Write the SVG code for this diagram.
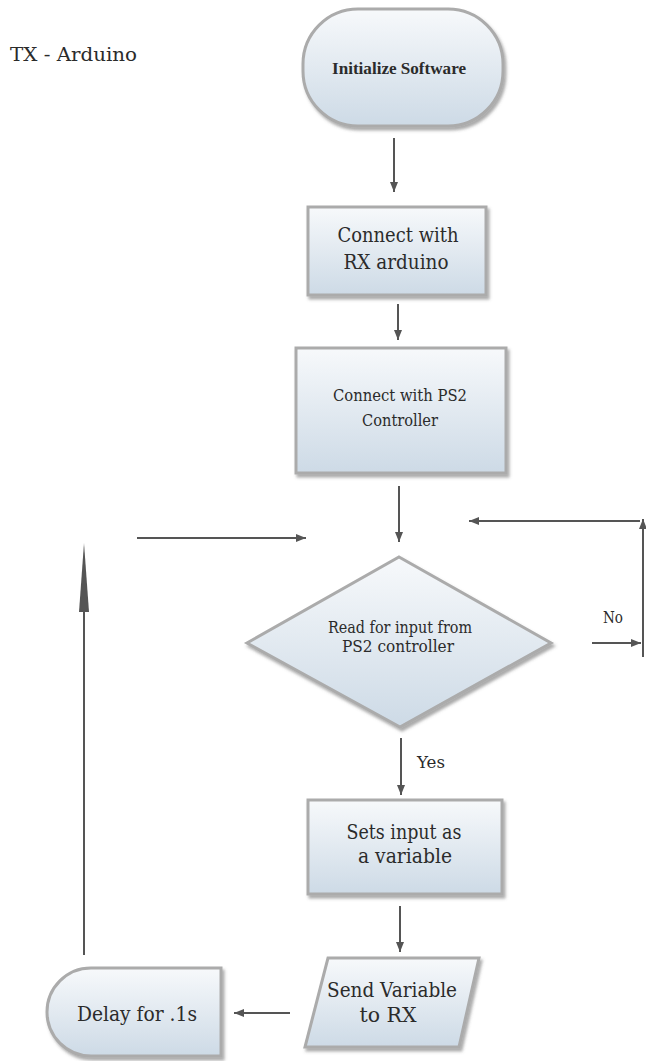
<svg xmlns="http://www.w3.org/2000/svg" width="646" height="1061" viewBox="0 0 646 1061">
<defs>
<linearGradient id="g" x1="0" y1="0" x2="0" y2="1">
<stop offset="0" stop-color="#f7f9fb"/>
<stop offset="1" stop-color="#cddae6"/>
</linearGradient>
<filter id="sh" x="-10%" y="-10%" width="125%" height="130%">
<feDropShadow dx="2" dy="3" stdDeviation="1.5" flood-color="#555" flood-opacity="0.5"/>
</filter>
<marker id="ah" markerUnits="userSpaceOnUse" markerWidth="12" markerHeight="10" refX="10" refY="5" orient="auto">
<path d="M0,1 L10,5 L0,9 Z" fill="#555"/>
</marker>
</defs>
<style>
.shape{fill:url(#g);stroke:#ababab;stroke-width:3;filter:url(#sh)}
text{font-family:'DejaVu Serif',serif;fill:#2b2b2b;text-anchor:middle}
</style>
<rect width="646" height="1061" fill="#fff"/>
<text x="10" y="61" font-size="19" textLength="127" lengthAdjust="spacingAndGlyphs" style="text-anchor:start">TX - Arduino</text>

<g id="init">
<rect class="shape" x="303" y="9" width="200" height="117" rx="55" ry="55"/>
<text x="399" y="74" font-size="17" font-weight="bold" textLength="134" lengthAdjust="spacingAndGlyphs" style="font-family:'Liberation Serif',serif">Initialize Software</text>
</g>
<g id="connectRX">
<rect class="shape" x="308" y="207" width="178" height="88"/>
<text x="398" y="242" font-size="20" textLength="121" lengthAdjust="spacingAndGlyphs">Connect with</text>
<text x="396" y="269" font-size="20" textLength="105" lengthAdjust="spacingAndGlyphs">RX arduino</text>
</g>
<g id="connectPS2">
<rect class="shape" x="296" y="348" width="210" height="125"/>
<text x="400" y="401" font-size="16" textLength="134" lengthAdjust="spacingAndGlyphs">Connect with PS2</text>
<text x="400" y="426" font-size="16" textLength="76" lengthAdjust="spacingAndGlyphs">Controller</text>
</g>
<g id="read">
<polygon class="shape" points="399,557 551,643 400,727 247,643"/>
<text x="400" y="633" font-size="16" textLength="144" lengthAdjust="spacingAndGlyphs">Read for input from</text>
<text x="398" y="652" font-size="16" textLength="112" lengthAdjust="spacingAndGlyphs">PS2 controller</text>
</g>
<g id="sets">
<rect class="shape" x="308" y="800" width="194" height="94"/>
<text x="404" y="839" font-size="20" textLength="115" lengthAdjust="spacingAndGlyphs">Sets input as</text>
<text x="405" y="863" font-size="20" textLength="94" lengthAdjust="spacingAndGlyphs">a variable</text>
</g>
<g id="send">
<polygon class="shape" points="328,958 479,958 459,1047 305,1047"/>
<text x="392" y="997" font-size="20" textLength="130" lengthAdjust="spacingAndGlyphs">Send Variable</text>
<text x="388" y="1022" font-size="20" textLength="57" lengthAdjust="spacingAndGlyphs">to RX</text>
</g>
<g id="delay">
<path class="shape" d="M91,968 H221 V1056 H91 A44,44 0 0 1 91,968 Z"/>
<text x="137" y="1021" font-size="20" textLength="120" lengthAdjust="spacingAndGlyphs">Delay for .1s</text>
</g>

<g id="connectors" stroke="#555" stroke-width="2" fill="none">
<line x1="394" y1="138" x2="394" y2="192" marker-end="url(#ah)"/>
<line x1="398" y1="304" x2="398" y2="340" marker-end="url(#ah)"/>
<line x1="399" y1="486" x2="399" y2="542" marker-end="url(#ah)"/>
<line x1="137" y1="538" x2="306" y2="538" marker-end="url(#ah)"/>
<line x1="640" y1="521" x2="469" y2="521" marker-end="url(#ah)"/>
<line x1="643" y1="657" x2="643" y2="519" marker-end="url(#ah)"/>
<line x1="592" y1="643" x2="641" y2="643" marker-end="url(#ah)"/>
<line x1="401" y1="738" x2="401" y2="795" marker-end="url(#ah)"/>
<line x1="400" y1="906" x2="400" y2="952" marker-end="url(#ah)"/>
<line x1="290" y1="1013" x2="234" y2="1013" marker-end="url(#ah)"/>
<line x1="84" y1="955" x2="84" y2="600"/>
<polygon points="84,543 89,612 79,612" fill="#555" stroke="none"/>
<text x="613" y="623" font-size="16" textLength="20" lengthAdjust="spacingAndGlyphs" stroke="none">No</text>
<text x="431" y="768" font-size="16" textLength="28" lengthAdjust="spacingAndGlyphs" stroke="none">Yes</text>
</g>
</svg>
